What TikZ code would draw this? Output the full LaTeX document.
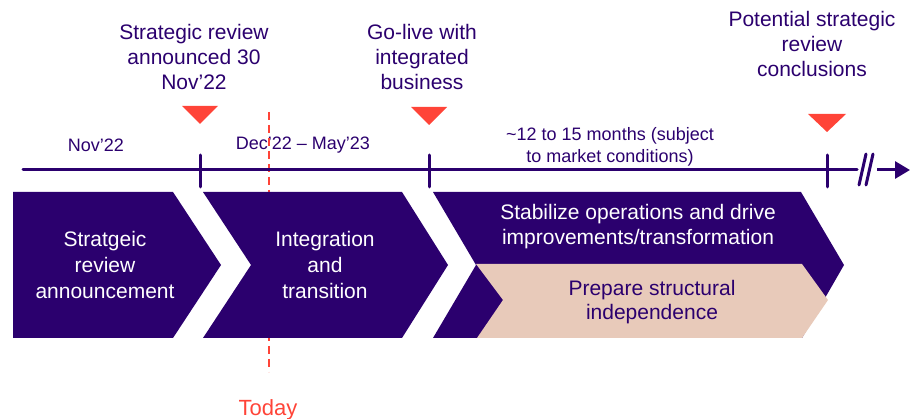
\documentclass[tikz,border=0pt]{standalone}
\usepackage{fontspec}
\setmainfont{Liberation Sans}
\usepackage{xcolor}
\usetikzlibrary{arrows.meta}

\definecolor{deeppurple}{HTML}{2B006E}
\definecolor{markred}{HTML}{FF4438}
\definecolor{sand}{HTML}{E8CABA}

\begin{document}
\begin{tikzpicture}[x=1pt,y=-1pt,
      top label/.style={text=deeppurple,align=center,inner sep=0pt,
                        font=\fontsize{21}{25}\selectfont},
      axis label/.style={text=deeppurple,align=center,inner sep=0pt,
                         font=\fontsize{18}{22}\selectfont},
      phase text/.style={text=white,align=center,inner sep=0pt,
                         font=\fontsize{21}{26}\selectfont},
      axis line/.style={draw=deeppurple,line width=3pt,line cap=round}]

        \useasboundingbox (0,0) rectangle (910,419);

        % labels above the time line
        \node[top label] (announced) at (194,57) {Strategic review\\announced 30\\Nov’22};
        \node[top label] (golive) at (422,57) {Go-live with\\integrated\\business};
        \node[top label] (conclusion) at (812,44) {Potential strategic\\review\\conclusions};

        \node[axis label] (nov) at (96,145) {Nov’22};
        \node[axis label] (decmay) at (303,145) {Dec’22 – May’23};
        \node[axis label] (months) at (610,147) {\textasciitilde12 to 15 months (subject\\to market conditions)};

        % today marker
        \coordinate (todaytop) at (269,112);
        \coordinate (todaybot) at (269,372);
        \draw[markred,line width=1.5pt,dash pattern=on 8pt off 5pt] (todaytop) -- (todaybot);
        \node[text=markred,inner sep=0pt,font=\fontsize{22}{26}\selectfont] (today) at (268,410) {Today};

        % phases
        \fill[deeppurple] (13,192) -- (173,192) -- (221,265) -- (173,338) -- (13,338) -- cycle;
        \fill[deeppurple] (203,192) -- (402,192) -- (448,265) -- (402,338) -- (203,338) -- (251,265) -- cycle;
        \fill[deeppurple] (433,192) -- (801,192) -- (844,265) -- (802,338) -- (433,338) -- (476,265) -- cycle;
        \fill[sand] (476,264) -- (802,264) -- (828,300) -- (802,338) -- (477,338) -- (503,300) -- cycle;

        \node[phase text] (announce) at (105,265) {Stratgeic\\review\\announcement};
        \node[phase text] (integration) at (325,265) {Integration\\and\\transition};
        \node[phase text,font=\fontsize{21}{25}\selectfont] (stabilize) at (638,227) {Stabilize operations and drive\\improvements/transformation};
        \node[phase text,text=deeppurple,font=\fontsize{21}{24}\selectfont] (prepare) at (652,302) {Prepare structural\\independence};

        % time line
        \coordinate (axstart) at (23,170);
        \coordinate (brkleft) at (857,170);
        \coordinate (brkright) at (877,170);
        \coordinate (axend) at (910,170);
        \coordinate (t1) at (200,170);
        \coordinate (t2) at (429,170);
        \coordinate (t3) at (827,170);

        \draw[axis line] (axstart) -- (brkleft);
        \draw[axis line,line cap=butt,-{Triangle[length=15pt 0,width=17pt 0]}] (brkright) -- (axend);
        \draw[axis line] (859,185) -- (866,154);
        \draw[axis line] (866,185) -- (873,154);

        \draw[axis line] (t1) ++(0,-15) -- ++(0,32);
        \draw[axis line] (t2) ++(0,-15) -- ++(0,32);
        \draw[axis line] (t3) ++(0,-15) -- ++(0,32);

        % milestones
        \fill[markred] (182,106) -- (218,106) -- (200,124) -- cycle;
        \fill[markred] (411,107) -- (447,107) -- (429,125) -- cycle;
        \fill[markred] (808,114) -- (846,114) -- (827,132) -- cycle;
      \end{tikzpicture}
\end{document}
